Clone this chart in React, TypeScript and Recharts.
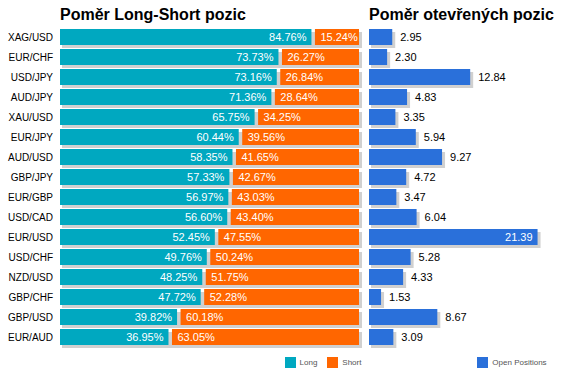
import React from 'react';
import { BarChart, Bar, XAxis, YAxis, Legend, LabelList } from 'recharts';

// Currency pairs, top to bottom
const pairs = ['XAG/USD', 'EUR/CHF', 'USD/JPY', 'AUD/JPY', 'XAU/USD', 'EUR/JPY', 'AUD/USD', 'GBP/JPY',
  'EUR/GBP', 'USD/CAD', 'EUR/USD', 'USD/CHF', 'NZD/USD', 'GBP/CHF', 'GBP/USD', 'EUR/AUD'];
const longPct = [84.76, 73.73, 73.16, 71.36, 65.75, 60.44, 58.35, 57.33, 56.97, 56.6, 52.45, 49.76, 48.25, 47.72, 39.82, 36.95];
const shortPct = [15.24, 26.27, 26.84, 28.64, 34.25, 39.56, 41.65, 42.67, 43.03, 43.4, 47.55, 50.24, 51.75, 52.28, 60.18, 63.05];
const openPos = [2.95, 2.3, 12.84, 4.83, 3.35, 5.94, 9.27, 4.72, 3.47, 6.04, 21.39, 5.28, 4.33, 1.53, 8.67, 3.09];

const TEAL = '#00a8c0';
const ORANGE = '#ff6600';
const BLUE = '#2a70da';
const SHADOW = '#d0d0d0';
const FONT = '"Liberation Sans", Arial, sans-serif';

const RIGHT_W = 198;

const data = pairs.map((pair, i) => ({
  pair,
  long: longPct[i],
  short: shortPct[i],
  open: openPos[i],
}));

const fmtPct = (v: number) => v.toFixed(2) + '%';

const LongShape = (props: any) => {
  const { x, y, width, height } = props;
  return <rect x={x} y={y} width={Math.max(width - 2, 0)} height={height} fill={TEAL} />;
};

const ShortShape = (props: any) => {
  const { x, y, width, height } = props;
  return <rect x={x + 1.5} y={y} width={Math.max(width - 1.5, 0)} height={height} fill={ORANGE} />;
};

const RowShadow = (props: any) => {
  const { x, y, width, height } = props;
  return <rect x={x + 2} y={y + 3} width={width + 1} height={height} fill={SHADOW} />;
};

const OpenShape = (props: any) => {
  const { x, y, width, height } = props;
  return (
    <g>
      <rect x={x + 2} y={y + 3} width={width + 1} height={height} fill={SHADOW} />
      <rect x={x} y={y} width={width} height={height} fill={BLUE} />
    </g>
  );
};

const LongLabel = (props: any) => {
  const { x, y, width, height, value } = props;
  return (
    <text x={x + width - 7} y={y + height / 2 + 4} textAnchor="end" fill="#fff" fontSize={11} fontFamily={FONT}>
      {fmtPct(value)}
    </text>
  );
};

const ShortLabel = (props: any) => {
  const { x, y, height, value } = props;
  return (
    <text x={x + 7} y={y + height / 2 + 4} textAnchor="start" fill="#fff" fontSize={11} fontFamily={FONT}>
      {fmtPct(value)}
    </text>
  );
};

// value goes outside the bar unless it would run off the chart
const OpenLabel = (props: any) => {
  const { x, y, width, height, value } = props;
  const inside = x + width + 36 > RIGHT_W;
  return (
    <text x={inside ? x + width - 5 : x + width + 8} y={y + height / 2 + 4}
      textAnchor={inside ? 'end' : 'start'} fill={inside ? '#fff' : '#000'} fontSize={11} fontFamily={FONT}>
      {value.toFixed(2)}
    </text>
  );
};

const legendText = (value: string) => <span style={{ color: '#555' }}>{value}</span>;

const legendWrap: React.CSSProperties = {
  top: 357,
  width: 100,
  whiteSpace: 'nowrap',
  fontSize: 8,
  fontFamily: FONT,
  lineHeight: '11px',
};

const titleStyle: React.CSSProperties = {
  position: 'absolute',
  top: 7,
  fontFamily: FONT,
  fontWeight: 'bold',
  fontSize: 16,
  lineHeight: '16px',
  color: '#000',
  whiteSpace: 'nowrap',
};

export default function App() {
  return (
    <div style={{ position: 'absolute', left: 0, top: 0, width: 567, height: 380, background: '#fff', overflow: 'hidden' }}>
      <div style={{ ...titleStyle, left: 60 }}>Poměr Long-Short pozic</div>
      <div style={{ ...titleStyle, left: 369 }}>Poměr otevřených pozic</div>

      <div style={{ position: 'absolute', left: 0, top: 0 }}>
        <BarChart width={370} height={380} data={data} layout="vertical"
          margin={{ top: 27, right: 11, bottom: 33, left: 0 }} barSize={16}>
          <XAxis type="number" domain={[0, 100]} hide />
          <YAxis type="category" dataKey="pair" width={60} axisLine={false} tickLine={false}
            tickSize={5} tickMargin={2} interval={0}
            tick={{ fill: '#000', fontSize: 10, fontFamily: FONT }} />
          <Legend layout="horizontal" align="center" verticalAlign="middle" iconType="square" iconSize={11}
            formatter={legendText} wrapperStyle={{ ...legendWrap, left: 278 }} />
          <Bar dataKey="long" name="Long" stackId="a" fill={TEAL} isAnimationActive={false}
            background={RowShadow} shape={LongShape}>
            <LabelList dataKey="long" content={LongLabel} />
          </Bar>
          <Bar dataKey="short" name="Short" stackId="a" fill={ORANGE} isAnimationActive={false} shape={ShortShape}>
            <LabelList dataKey="short" content={ShortLabel} />
          </Bar>
        </BarChart>
      </div>

      <div style={{ position: 'absolute', left: 369, top: 0 }}>
        <BarChart width={RIGHT_W} height={380} data={data} layout="vertical"
          margin={{ top: 27, right: 1, bottom: 33, left: 0 }} barSize={16}>
          <XAxis type="number" domain={[0, 25]} hide />
          <YAxis type="category" dataKey="pair" hide />
          <Legend layout="horizontal" align="center" verticalAlign="middle" iconType="square" iconSize={11}
            formatter={legendText} wrapperStyle={{ ...legendWrap, left: 98 }} />
          <Bar dataKey="open" name="Open Positions" fill={BLUE} isAnimationActive={false} shape={OpenShape}>
            <LabelList dataKey="open" content={OpenLabel} />
          </Bar>
        </BarChart>
      </div>
    </div>
  );
}
